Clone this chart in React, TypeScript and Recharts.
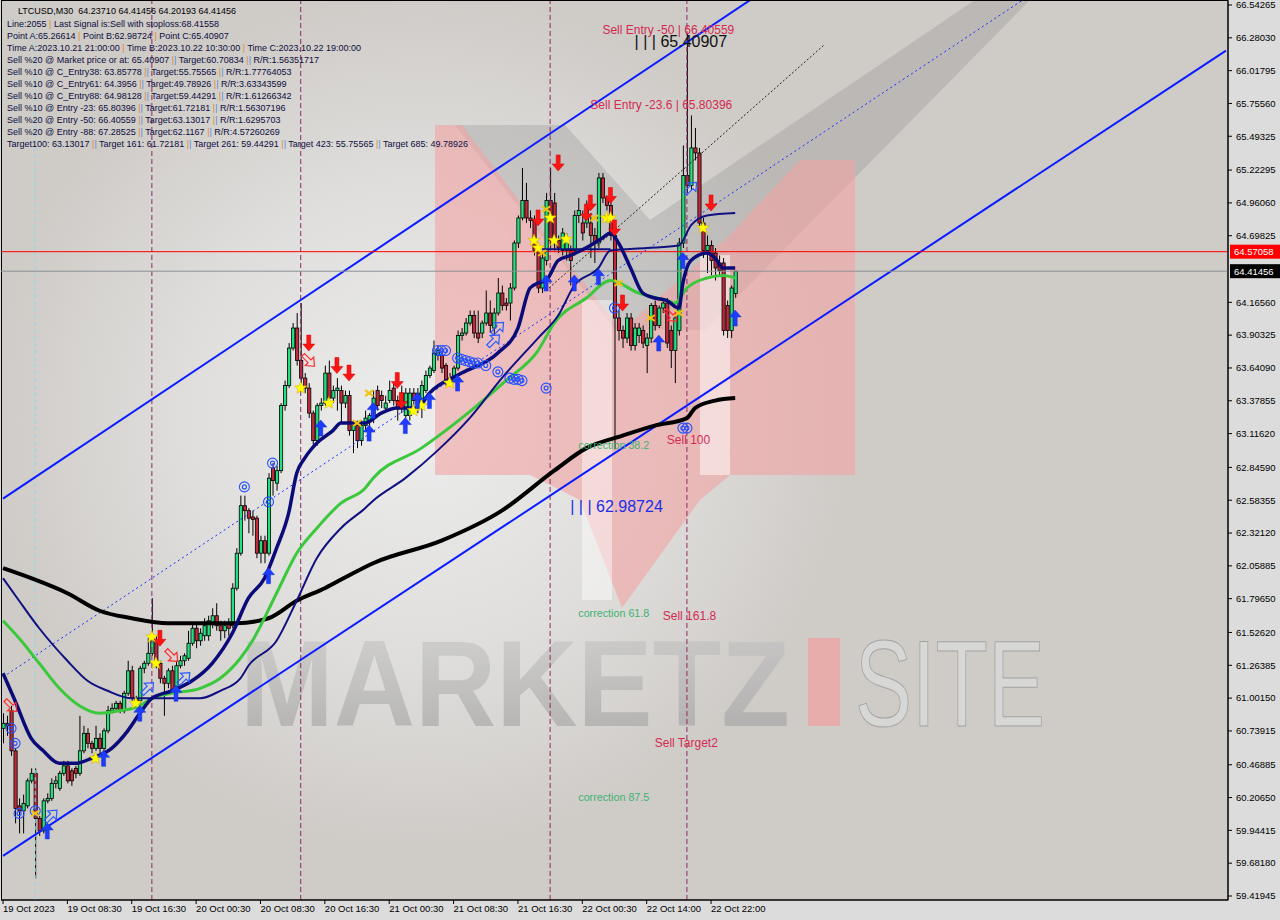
import React from "react";
import { ComposedChart, Bar, Line, XAxis, YAxis, ReferenceLine, ReferenceDot } from "recharts";

const W = 1280;
const H = 920;
const SLOTS = 305; // 183 bars + empty chart shift on the right
const FONT = "'Liberation Sans', Arial, sans-serif";

// open, high, low, close of every 30 minute bar
const candles = [
  [60.76, 60.88, 60.64, 60.8], [60.8, 60.86, 60.7, 60.78], [60.9, 60.94, 60.54, 60.58], [60.58, 60.6, 60.0, 60.12],
  [60.14, 60.2, 59.92, 60.1], [60.1, 60.23, 59.92, 60.16], [60.14, 60.36, 60.12, 60.34], [60.34, 60.44, 60.32, 60.4],
  [60.4, 60.44, 59.56, 60.04], [60.04, 60.06, 59.9, 59.94], [59.94, 60.2, 59.92, 60.18], [60.18, 60.24, 60.16, 60.2],
  [60.2, 60.36, 60.18, 60.32], [60.32, 60.38, 60.28, 60.34], [60.28, 60.42, 60.26, 60.4], [60.4, 60.5, 60.38, 60.46],
  [60.46, 60.5, 60.32, 60.34], [60.42, 60.44, 60.3, 60.34], [60.44, 60.46, 60.36, 60.4], [60.4, 60.86, 60.38, 60.58],
  [60.58, 60.78, 60.56, 60.72], [60.72, 60.76, 60.6, 60.64], [60.64, 60.66, 60.56, 60.6], [60.6, 60.78, 60.58, 60.68],
  [60.68, 60.72, 60.56, 60.6], [60.6, 60.76, 60.58, 60.74], [60.74, 60.94, 60.72, 60.9], [60.9, 60.96, 60.88, 60.92],
  [60.92, 60.98, 60.9, 60.96], [60.96, 60.98, 60.88, 60.9], [60.9, 61.06, 60.88, 61.04], [61.04, 61.3, 61.02, 61.22],
  [61.22, 61.26, 60.98, 61.0], [61.0, 61.02, 60.92, 60.96], [60.98, 61.26, 60.96, 61.24], [61.24, 61.3, 61.2, 61.28],
  [61.28, 61.48, 61.26, 61.36], [61.36, 61.8, 61.34, 61.48], [61.46, 61.5, 61.24, 61.28], [61.28, 61.3, 61.12, 61.16],
  [61.16, 61.18, 60.86, 61.12], [61.12, 61.24, 61.08, 61.22], [61.22, 61.26, 61.04, 61.06], [61.06, 61.3, 61.04, 61.26],
  [61.26, 61.34, 61.24, 61.3], [61.3, 61.36, 61.26, 61.34], [61.32, 61.54, 61.3, 61.44], [61.44, 61.6, 61.42, 61.56],
  [61.56, 61.6, 61.4, 61.46], [61.46, 61.56, 61.42, 61.52], [61.5, 61.64, 61.46, 61.58], [61.5, 61.66, 61.46, 61.62],
  [61.6, 61.72, 61.56, 61.66], [61.66, 61.76, 61.54, 61.58], [61.58, 61.62, 61.46, 61.54], [61.54, 61.62, 61.48, 61.58],
  [61.6, 61.64, 61.5, 61.56], [61.58, 61.92, 61.56, 61.88], [61.88, 62.2, 61.86, 62.16], [62.16, 62.62, 62.14, 62.54],
  [62.54, 62.62, 62.42, 62.5], [62.5, 62.52, 62.32, 62.44], [62.45, 62.5, 62.3, 62.43], [62.44, 62.46, 62.12, 62.16],
  [62.16, 62.3, 62.08, 62.26], [62.26, 62.3, 62.08, 62.16], [62.16, 62.8, 62.14, 62.76], [62.84, 62.88, 62.62, 62.74],
  [62.72, 62.86, 62.66, 62.82], [62.82, 63.36, 62.8, 63.34], [63.34, 63.54, 63.3, 63.5], [63.5, 63.84, 63.48, 63.8],
  [63.8, 64.0, 63.78, 63.96], [63.96, 64.08, 63.66, 63.7], [63.7, 64.16, 63.52, 63.56], [63.56, 63.6, 63.44, 63.48],
  [63.48, 63.52, 63.24, 63.28], [63.28, 63.3, 63.02, 63.06], [63.06, 63.36, 63.02, 63.34], [63.34, 63.4, 63.3, 63.36],
  [63.36, 63.66, 63.34, 63.6], [63.6, 63.7, 63.34, 63.4], [63.4, 63.5, 63.36, 63.46], [63.46, 63.56, 63.3, 63.48],
  [63.46, 63.5, 63.2, 63.36], [63.36, 63.46, 63.32, 63.42], [63.42, 63.46, 63.1, 63.14], [63.14, 63.22, 62.96, 63.18],
  [63.18, 63.22, 63.0, 63.06], [63.06, 63.22, 63.02, 63.18], [63.18, 63.3, 63.14, 63.24], [63.22, 63.28, 63.16, 63.26],
  [63.26, 63.46, 63.2, 63.4], [63.46, 63.5, 63.3, 63.34], [63.42, 63.46, 63.32, 63.38], [63.32, 63.42, 63.28, 63.36],
  [63.38, 63.54, 63.36, 63.46], [63.48, 63.52, 63.34, 63.38], [63.38, 63.42, 63.22, 63.32], [63.44, 63.5, 63.28, 63.34],
  [63.26, 63.48, 63.24, 63.44], [63.26, 63.48, 63.22, 63.44], [63.44, 63.48, 63.34, 63.38], [63.32, 63.48, 63.28, 63.44],
  [63.32, 63.54, 63.24, 63.5], [63.46, 63.62, 63.44, 63.58], [63.58, 63.66, 63.56, 63.64], [63.62, 63.86, 63.6, 63.76],
  [63.74, 63.82, 63.7, 63.78], [63.74, 63.78, 63.6, 63.64], [63.66, 63.68, 63.5, 63.54], [63.54, 63.6, 63.5, 63.56],
  [63.54, 63.66, 63.52, 63.64], [63.64, 63.94, 63.62, 63.9], [63.9, 63.96, 63.86, 63.92], [63.92, 64.04, 63.9, 64.0],
  [64.0, 64.1, 63.98, 64.06], [64.06, 64.1, 63.88, 63.92], [63.92, 64.1, 63.84, 63.88], [63.92, 64.02, 63.88, 64.0],
  [64.0, 64.26, 63.98, 64.08], [64.08, 64.18, 63.92, 63.98], [63.96, 64.12, 63.9, 64.08], [64.08, 64.36, 64.06, 64.24],
  [64.24, 64.3, 64.1, 64.14], [64.16, 64.2, 64.1, 64.14], [64.16, 64.32, 64.02, 64.28], [64.28, 64.66, 64.26, 64.64],
  [64.64, 64.86, 64.6, 64.84], [64.84, 65.24, 64.82, 64.98], [64.98, 65.12, 64.8, 64.84], [64.84, 64.9, 64.76, 64.82],
  [64.82, 64.86, 64.54, 64.58], [64.58, 64.62, 64.24, 64.28], [64.28, 64.56, 64.24, 64.52], [64.5, 65.04, 64.46, 64.98],
  [64.98, 65.24, 64.6, 64.66], [64.96, 65.04, 64.58, 64.66], [64.66, 64.7, 64.56, 64.6], [64.58, 64.76, 64.54, 64.72],
  [64.58, 64.72, 64.5, 64.66], [64.58, 64.62, 64.3, 64.5], [64.58, 64.9, 64.54, 64.86], [64.86, 65.0, 64.8, 64.9],
  [64.8, 64.9, 64.66, 64.72], [64.8, 64.98, 64.76, 64.92], [64.8, 64.88, 64.52, 64.7], [64.7, 64.76, 64.48, 64.64],
  [64.64, 65.2, 64.6, 65.16], [65.16, 65.2, 64.96, 65.0], [65.0, 65.02, 64.9, 64.94], [64.94, 64.98, 64.66, 64.7],
  [64.7, 64.76, 62.99, 64.04], [64.04, 64.1, 63.86, 63.94], [63.94, 63.98, 63.8, 63.88], [63.88, 64.08, 63.84, 64.04],
  [64.04, 64.08, 63.78, 63.82], [63.82, 64.0, 63.78, 63.96], [63.9, 64.0, 63.84, 63.96], [63.94, 63.98, 63.8, 63.84],
  [63.82, 63.92, 63.6, 63.88], [63.88, 64.16, 63.84, 64.14], [64.14, 64.18, 63.94, 63.98], [63.98, 64.14, 63.96, 64.12],
  [64.12, 64.2, 64.08, 64.16], [64.16, 64.2, 63.8, 63.84], [63.94, 63.98, 63.64, 63.78], [63.78, 64.06, 63.52, 64.04],
  [63.94, 64.68, 63.9, 64.64], [64.64, 65.42, 64.6, 65.18], [65.18, 66.32, 65.04, 65.1], [65.1, 65.66, 65.06, 65.4],
  [65.4, 65.56, 65.3, 65.36], [65.36, 65.4, 64.76, 64.8], [64.8, 64.84, 64.52, 64.58], [64.58, 64.7, 64.4, 64.62],
  [64.62, 64.66, 64.38, 64.5], [64.56, 64.6, 64.34, 64.44], [64.48, 64.54, 64.38, 64.42], [64.48, 64.52, 63.9, 63.94],
  [64.14, 64.18, 63.88, 63.94], [63.94, 64.3, 63.88, 64.28], [64.2371, 64.41456, 64.20193, 64.41456],
];

const timeLabels = [
  "19 Oct 2023", "19 Oct 08:30", "19 Oct 16:30", "20 Oct 00:30", "20 Oct 08:30", "20 Oct 16:30",
  "21 Oct 00:30", "21 Oct 08:30", "21 Oct 16:30", "22 Oct 00:30", "22 Oct 14:00", "22 Oct 22:00",
];

const priceTicks = [
  66.54265, 66.2803, 66.01795, 65.7556, 65.49325, 65.22295, 64.9606, 64.69825, 64.1656, 63.90325,
  63.6409, 63.37855, 63.1162, 62.8459, 62.58355, 62.3212, 62.05885, 61.7965, 61.5262, 61.26385,
  61.0015, 60.73915, 60.46885, 60.2065, 59.94415, 59.6818, 59.41945,
];

const lastPrice = 64.41456;
const signalPrice = 64.57058;

// moving averages, [bar, price]
const maFast = [
  [0, 61.2], [3, 60.98], [7, 60.68], [10, 60.58], [14, 60.48], [18, 60.48], [22, 60.52], [27, 60.6], [31, 60.74],
  [34, 60.88], [37, 61.0], [42, 61.06], [47, 61.14], [52, 61.28], [57, 61.52], [61, 61.8], [65, 61.96], [68, 62.2],
  [71, 62.48], [73, 62.8], [75, 62.92], [78, 63.04], [82, 63.14], [84, 63.2], [87, 63.2], [90, 63.2], [94, 63.28],
  [98, 63.32], [103, 63.32], [106, 63.44], [114, 63.6], [123, 63.76], [128, 63.96], [131, 64.28], [133, 64.32],
  [135, 64.34], [138, 64.5], [141, 64.54], [146, 64.62], [149, 64.68], [151, 64.72], [153, 64.64], [156, 64.44],
  [159, 64.24], [162, 64.2], [165, 64.18], [168, 64.12], [169, 64.32], [171, 64.5], [175, 64.56], [177, 64.52],
  [179, 64.44], [182, 64.44],
];
const maMid = [
  [0, 61.96], [4, 61.78], [9, 61.56], [16, 61.3], [21, 61.14], [26, 61.06], [32, 61.0], [37, 61.0], [42, 61.0],
  [49, 61.0], [54, 61.06], [59, 61.16], [61, 61.26], [68, 61.46], [73, 61.78], [78, 62.12], [84, 62.36], [90, 62.52],
  [92, 62.58], [100, 62.76], [108, 62.98], [116, 63.24], [124, 63.56], [133, 63.88], [138, 64.06], [142, 64.3],
  [148, 64.44], [151, 64.58], [160, 64.6], [168, 64.62], [171, 64.78], [175, 64.86], [182, 64.88],
];
const maGreen = [
  [0, 61.62], [4, 61.48], [9, 61.28], [14, 61.08], [19, 60.94], [24, 60.88], [29, 60.9], [34, 60.94], [37, 61.0],
  [42, 61.04], [49, 61.08], [54, 61.16], [59, 61.32], [62, 61.46], [68, 61.84], [73, 62.16], [78, 62.36], [84, 62.56],
  [90, 62.68], [92, 62.76], [104, 63.0], [114, 63.24], [125, 63.54], [133, 63.78], [137, 64.0], [145, 64.2],
  [151, 64.34], [158, 64.24], [165, 64.18], [167, 64.16], [170, 64.28], [175, 64.36], [179, 64.38], [182, 64.36],
];
const ma200 = [
  [0, 62.04], [7, 61.96], [16, 61.84], [24, 61.7], [32, 61.64], [41, 61.6], [49, 61.6], [58, 61.6], [66, 61.64],
  [73, 61.78], [80, 61.88], [87, 62.0], [92, 62.08], [109, 62.26], [124, 62.5], [137, 62.82], [145, 63.0],
  [154, 63.1], [162, 63.18], [170, 63.24], [172, 63.32], [177, 63.38], [182, 63.4],
];
const flatLevel = [[134, 64.59], [151, 64.59]];

// trend lines, [bar, price] end points
const upperChannel = [[0, 62.596], [190, 66.674]];
const lowerChannel = [[0, 59.74], [304, 66.178]];
const blueDotted = [[0, 61.17], [256, 66.636]];
const blackDotted = [[135, 64.26], [204, 66.22]];
const timeMarks = [37, 74, 136, 170];
const cyanMark = 8;

// signal markers, [bar, price]
const upArrows = [
  [11, 59.94], [25, 60.52], [34, 60.88], [43, 61.04], [66, 61.98], [79, 63.16], [91, 63.12], [92, 63.3],
  [100, 63.18], [103, 63.38], [106, 63.38], [113, 63.52], [135, 64.32], [142, 64.32], [148, 64.37],
  [163, 63.84], [169, 64.5], [182, 64.04],
];
const downArrows = [
  [39, 61.48], [76, 63.84], [83, 63.66], [86, 63.6], [98, 63.54], [99, 63.38], [133, 64.84], [138, 65.28],
  [145, 64.88], [146, 64.96], [151, 65.02], [152, 64.76], [154, 64.16], [176, 64.96],
];
const stars = [
  [23, 60.52], [33, 60.96], [37, 61.49], [38, 61.28], [74, 63.48], [81, 63.36], [102, 63.3], [104, 63.34],
  [111, 63.52], [132, 64.66], [133, 64.6], [136, 64.84], [137, 64.66], [140, 64.67], [150, 64.84], [151, 64.84],
  [174, 64.76],
];
const crosses = [
  [8, 60.08], [88, 63.2], [91, 63.44], [134, 64.56], [135, 64.91], [147, 64.84], [153, 64.32], [161, 64.04], [168, 64.08],
];
const rings = [
  [2, 60.76], [3, 60.64], [4, 60.08], [8, 60.1], [60, 62.69], [66, 62.57], [67, 62.88], [108, 63.78], [109, 63.78],
  [110, 63.78], [113, 63.72], [114, 63.71], [115, 63.7], [116, 63.69], [117, 63.68], [118, 63.68], [120, 63.66],
  [123, 63.61], [126, 63.56], [127, 63.55], [128, 63.55], [129, 63.54], [135, 63.48], [152, 64.12], [169, 63.16],
  [170, 63.16],
];
const hollowDown = [[2, 60.94], [42, 61.34], [76, 63.7], [166, 64.06]];
const hollowUp = [[12, 60.06], [36, 61.08], [45, 61.16], [122, 63.86], [123, 63.96], [171, 65.08]];

// chart annotations: text, bar, price, kind
const notes: [string, number, number, string][] = [
  ["Sell Entry -50 | 66.40559", 149, 66.40559, "sell"],
  ["| | | 65.40907", 157, 66.32, "black"],
  ["Sell Entry -23.6 | 65.80396", 146, 65.80396, "sell"],
  ["Sell 100", 165, 63.13017, "sell"],
  ["| | | 62.98724", 141, 62.532, "blue"],
  ["Sell 161.8", 164, 61.72181, "sell"],
  ["Sell Target2", 162, 60.70834, "sell"],
  ["correction 38.2", 143, 63.028, "corr"],
  ["correction 61.8", 143, 61.684, "corr"],
  ["correction 87.5", 143, 60.212, "corr"],
];

const infoLines = [
  "LTCUSD,M30  64.23710 64.41456 64.20193 64.41456",
  "Line:2055 | Last Signal is:Sell with stoploss:68.41558",
  "Point A:65.26614 | Point B:62.98724 | Point C:65.40907",
  "Time A:2023.10.21 21:00:00 | Time B:2023.10.22 10:30:00 | Time C:2023.10.22 19:00:00",
  "Sell %20 @ Market price or at: 65.40907 || Target:60.70834 || R/R:1.56351717",
  "Sell %10 @ C_Entry38: 63.85778 || Target:55.75565 || R/R:1.77764053",
  "Sell %10 @ C_Entry61: 64.3956 || Target:49.78926 || R/R:3.63343599",
  "Sell %10 @ C_Entry88: 64.98128 || Target:59.44291 || R/R:1.61266342",
  "Sell %10 @ Entry -23: 65.80396 || Target:61.72181 || R/R:1.56307196",
  "Sell %20 @ Entry -50: 66.40559 || Target:63.13017 || R/R:1.6295703",
  "Sell %20 @ Entry -88: 67.28525 || Target:62.1167 || R/R:4.57260269",
  "Target100: 63.13017 || Target 161: 61.72181 || Target 261: 59.44291 || Target 423: 55.75565 || Target 685: 49.78926",
];

const noteStyles: Record<string, any> = {
  sell: { fill: "#d42a52", size: 12, dy: 8 },
  black: { fill: "#111", size: 16, dy: 9 },
  blue: { fill: "#1c2ee6", size: 16, dy: 0 },
  corr: { fill: "#3cb371", size: 10.5, dy: 0, len: 71 },
};

const rows: any[] = Array.from({ length: SLOTS }, (_, i) => ({ i }));
candles.forEach(([o, h, l, c], i) => Object.assign(rows[i], { o, h, l, c, range: [l, h] }));
const put = (key: string, pts: number[][]) => pts.forEach(([i, v]) => { rows[i][key] = v; });
put("fast", maFast);
put("mid", maMid);
put("green", maGreen);
put("slow", ma200);
put("mkUp", upArrows);
put("mkDown", downArrows);
put("mkStar", stars);
put("mkCross", crosses);
put("mkRing", rings);
put("mkHDown", hollowDown);
put("mkHUp", hollowUp);

const Candle = (props: any) => {
  const { x, y, width, height, payload } = props;
  if (!payload || payload.o == null || y == null) return <g />;
  const { o, h, l, c } = payload;
  const top = Math.min(y, y + height);
  const bot = Math.max(y, y + height);
  const k = h > l ? (bot - top) / (h - l) : 0;
  const yo = top + (h - o) * k;
  const yc = top + (h - c) * k;
  const cx = x + width / 2;
  const bt = Math.min(yo, yc);
  const bh = Math.max(Math.abs(yo - yc), 1);
  return (
    <g>
      <line x1={cx} x2={cx} y1={top} y2={bot} stroke="#000" strokeWidth={1} />
      <rect x={cx - 1.6} y={bt} width={3.2} height={bh} fill={c >= o ? "#22e07c" : "#c22a3c"} stroke="#000" strokeWidth={0.8} />
    </g>
  );
};

const arrowPts = "0,-8 6,-1 2,-1 2,8 -2,8 -2,-1 -6,-1";
const drawUp = (x: number, y: number) => (
  <polygon points={arrowPts} transform={`translate(${x},${y})`} fill="#1d3cff" stroke="#1530c8" strokeWidth={0.5} />
);
const drawDown = (x: number, y: number) => (
  <polygon points={arrowPts} transform={`translate(${x},${y}) rotate(180)`} fill="#ff1414" stroke="#c80000" strokeWidth={0.5} />
);
const drawHollowDown = (x: number, y: number) => (
  <polygon points={arrowPts} transform={`translate(${x},${y}) rotate(135)`} fill="none" stroke="#ff2a2a" strokeWidth={1.2} />
);
const drawHollowUp = (x: number, y: number) => (
  <polygon points={arrowPts} transform={`translate(${x},${y}) rotate(45)`} fill="none" stroke="#2a5cff" strokeWidth={1.2} />
);
const starPts = Array.from({ length: 10 }, (_, k) => {
  const r = k % 2 === 0 ? 6.5 : 2.8;
  const a = -Math.PI / 2 + (k * Math.PI) / 5;
  return `${(r * Math.cos(a)).toFixed(2)},${(r * Math.sin(a)).toFixed(2)}`;
}).join(" ");
const drawStar = (x: number, y: number) => (
  <polygon points={starPts} transform={`translate(${x},${y})`} fill="#ffff00" stroke="#d4a800" strokeWidth={0.5} />
);
const drawCross = (x: number, y: number) => (
  <g stroke="#f2c20c" strokeWidth={2}>
    <line x1={x - 4} y1={y - 3} x2={x + 4} y2={y + 3} />
    <line x1={x - 4} y1={y + 3} x2={x + 4} y2={y - 3} />
  </g>
);
const drawRing = (x: number, y: number) => (
  <g fill="none" stroke="#2450ff" strokeWidth={1.1}>
    <circle cx={x} cy={y} r={5} />
    <circle cx={x} cy={y} r={2} />
  </g>
);

const markerLayer = (key: string, draw: (x: number, y: number) => React.ReactNode) => (
  <Line
    key={key}
    dataKey={key}
    stroke="none"
    isAnimationActive={false}
    legendType="none"
    activeDot={false}
    dot={(p: any) => (
      <g key={`${key}-${p.index}`}>{p.value == null || p.cy == null || isNaN(p.cy) ? null : draw(p.cx, p.cy)}</g>
    )}
  />
);

const TimeTick = (props: any) => {
  const { x, y, payload } = props;
  const v = Number(payload?.value);
  if (v % 16 !== 0 || !timeLabels[v / 16]) return <g />;
  return (
    <g>
      <line x1={x} x2={x} y1={y - 5} y2={y - 1} stroke="#000" />
      <text x={x} y={y + 7} fontSize={9.5} fontFamily={FONT} fill="#000">{timeLabels[v / 16]}</text>
    </g>
  );
};

const PriceTick = (props: any) => {
  const { x, y, payload } = props;
  return (
    <g>
      <line x1={x - 8} x2={x - 4} y1={y} y2={y} stroke="#000" />
      <text x={x} y={y + 3.3} fontSize={9.5} fontFamily={FONT} fill="#000">{Number(payload.value).toFixed(5)}</text>
    </g>
  );
};

const priceTag = (bg: string, value: number) => (props: any) => {
  const vb = props.viewBox || {};
  const right = (vb.x ?? 0) + (vb.width ?? 0);
  const y = vb.y ?? 0;
  return (
    <g>
      <rect x={right + 2} y={y - 7} width={52} height={14} fill={bg} />
      <text x={right + 6} y={y + 3.4} fontSize={9.5} fontFamily={FONT} fill="#fff">{value.toFixed(5)}</text>
    </g>
  );
};

const noteLabel = (text: string, kind: string) => (props: any) => {
  const vb = props.viewBox || {};
  const s = noteStyles[kind];
  const x = (vb.x ?? 0) + (vb.width ?? 0) / 2;
  const y = (vb.y ?? 0) + (vb.height ?? 0) / 2;
  return (
    <text
      x={x}
      y={y + s.dy}
      dominantBaseline="central"
      fontSize={s.size}
      fontFamily={FONT}
      fill={s.fill}
      textLength={s.len}
      lengthAdjust={s.len ? "spacingAndGlyphs" : undefined}
      style={{ whiteSpace: "pre" }}
    >
      {text}
    </text>
  );
};

const seg = (pts: number[][]) => [{ x: pts[0][0], y: pts[0][1] }, { x: pts[1][0], y: pts[1][1] }];

function Backdrop() {
  return (
    <svg width={W} height={H} style={{ position: "absolute", left: 0, top: 0 }}>
      <defs>
        <radialGradient id="glow" cx={420} cy={420} r={430} gradientUnits="userSpaceOnUse">
          <stop offset="0" stopColor="#ededed" />
          <stop offset="0.55" stopColor="#dfdedc" />
          <stop offset="1" stopColor="#cfcbc7" />
        </radialGradient>
        <linearGradient id="wm" x1="0" y1="0" x2="0" y2="1">
          <stop offset="0" stopColor="#c8c8c8" />
          <stop offset="1" stopColor="#949494" />
        </linearGradient>
      </defs>
      <rect width={W} height={H} fill="#dcdcdc" />
      <rect x={1} y={1} width={1227} height={899} fill="url(#glow)" />
      <polygon points="455,125 565,125 650,220 975,0 1030,0 705,330 615,330" fill="#8e8e8e" opacity={0.3} />
      <g fill="#f2a4a4" opacity={0.6}>
        <polygon points="435,125 462,125 530,215 530,475 435,475" />
        <polygon points="530,215 622,330 730,235 730,475 700,500 622,608 580,500 530,475" />
        <polygon points="730,235 800,160 855,160 855,475 730,475" />
      </g>
      <rect x={582} y={300} width={30} height={300} fill="#fff" opacity={0.45} />
      <rect x={700} y={255} width={30} height={220} fill="#fff" opacity={0.5} />
      <text x={240} y={726} fontSize={122} fontWeight="bold" fontFamily={FONT} fill="url(#wm)" opacity={0.55}
        textLength={550} lengthAdjust="spacingAndGlyphs">MARKETZ</text>
      <rect x={808} y={638} width={32} height={88} fill="#f0a0a0" opacity={0.7} />
      <text x={855} y={726} fontSize={122} fontFamily={FONT} fill="#dadada" stroke="#9a9a9a" strokeWidth={1}
        opacity={0.8} textLength={190} lengthAdjust="spacingAndGlyphs">SITE</text>
      <rect x={1.5} y={0.5} width={1226.5} height={899.5} fill="none" stroke="#000" />
    </svg>
  );
}

function InfoText() {
  return (
    <svg width={W} height={160} style={{ position: "absolute", left: 0, top: 0, pointerEvents: "none" }}>
      {infoLines.map((line, k) => {
        const parts = line.split(/(\|+)/);
        return (
          <text key={k} x={k === 0 ? 18 : 7} y={k === 0 ? 14 : 27 + (k - 1) * 12} fontSize={9} fontFamily={FONT}
            fill={k === 0 ? "#000" : "#0c0c40"} style={{ whiteSpace: "pre" }}>
            {parts.map((s, j) =>
              /^\|+$/.test(s)
                ? s.split("").map((ch, m) => (
                    <tspan key={`${j}-${m}`} fill={m % 2 === 0 ? "#e08a1e" : "#4a90e2"}>{ch}</tspan>
                  ))
                : <tspan key={j}>{s}</tspan>
            )}
          </text>
        );
      })}
    </svg>
  );
}

export default function App() {
  return (
    <div style={{ position: "absolute", left: 0, top: 0, width: W, height: H, overflow: "hidden" }}>
      <Backdrop />
      <div style={{ position: "absolute", left: 0, top: 0 }}>
        <ComposedChart width={W} height={H} data={rows} margin={{ top: 1, right: 0, bottom: 0, left: 1 }}>
          <XAxis dataKey="i" type="category" interval={0} height={20} tickLine={false} tickSize={4} tickMargin={1}
            axisLine={{ stroke: "#000" }} tick={(p: any) => <TimeTick {...p} />} />
          <YAxis orientation="right" type="number" width={52} domain={[59.3875, 66.5746]} allowDataOverflow
            ticks={priceTicks} interval={0} tickLine={false} tickSize={4} tickMargin={4}
            axisLine={{ stroke: "#000" }} tick={(p: any) => <PriceTick {...p} />} />

          <ReferenceLine x={cyanMark} stroke="#8fd8ee" strokeDasharray="4 3" />
          {timeMarks.map((t) => (
            <ReferenceLine key={t} x={t} stroke="#8c2a62" strokeDasharray="5 3" />
          ))}
          <ReferenceLine segment={seg(upperChannel)} stroke="#0a1cff" strokeWidth={2} ifOverflow="hidden" />
          <ReferenceLine segment={seg(lowerChannel)} stroke="#0a1cff" strokeWidth={2} ifOverflow="hidden" />
          <ReferenceLine segment={seg(blueDotted)} stroke="#1a30ff" strokeDasharray="2 3" ifOverflow="hidden" />
          <ReferenceLine segment={seg(blackDotted)} stroke="#222" strokeDasharray="2 2" ifOverflow="hidden" />
          <ReferenceLine y={signalPrice} stroke="#ff0000" label={priceTag("#ff0000", signalPrice)} />
          <ReferenceLine y={lastPrice} stroke="#8a9096" label={priceTag("#000000", lastPrice)} />

          <Bar dataKey="range" barSize={3} isAnimationActive={false} shape={(p: any) => <Candle {...p} />} />

          <Line dataKey="slow" type="monotone" stroke="#000" strokeWidth={4} dot={false} connectNulls isAnimationActive={false} />
          <Line dataKey="green" type="monotone" stroke="#3cc83c" strokeWidth={3} dot={false} connectNulls isAnimationActive={false} />
          <Line dataKey="mid" type="monotone" stroke="#101080" strokeWidth={2} dot={false} connectNulls isAnimationActive={false} />
          <ReferenceLine segment={seg(flatLevel)} stroke="#101080" strokeWidth={2} />
          <Line dataKey="fast" type="monotone" stroke="#0a0a78" strokeWidth={3.5} dot={false} connectNulls isAnimationActive={false} />

          {markerLayer("mkRing", drawRing)}
          {markerLayer("mkHDown", drawHollowDown)}
          {markerLayer("mkHUp", drawHollowUp)}
          {markerLayer("mkCross", drawCross)}
          {markerLayer("mkStar", drawStar)}
          {markerLayer("mkUp", drawUp)}
          {markerLayer("mkDown", drawDown)}

          {notes.map(([text, bar, price, kind]) => (
            <ReferenceDot key={text} x={bar} y={price} r={1} fill="none" stroke="none" label={noteLabel(text, kind)} />
          ))}
        </ComposedChart>
      </div>
      <InfoText />
    </div>
  );
}
